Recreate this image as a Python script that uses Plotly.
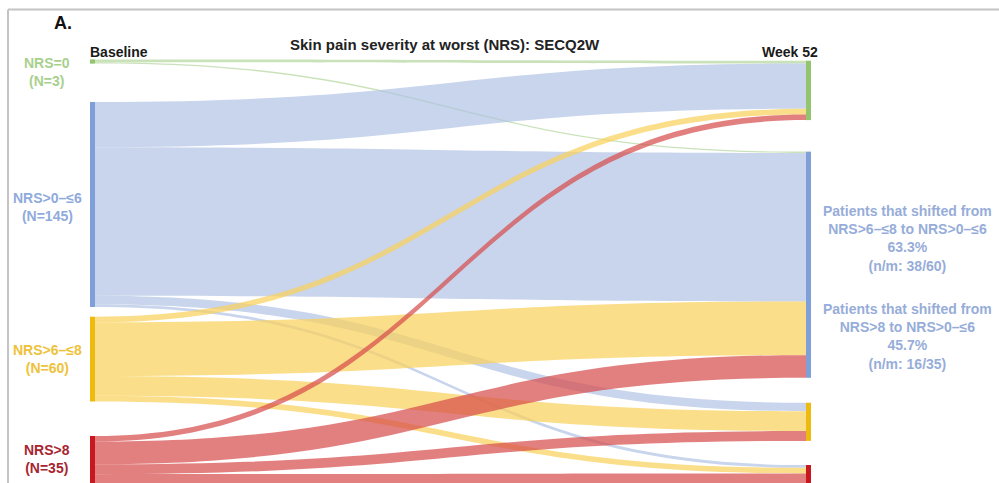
import plotly.graph_objects as go

# Pain categories (same at baseline and week 52)
categories = ["NRS=0", "NRS>0–≤6", "NRS>6–≤8", "NRS>8"]

# Patients moving from one baseline category (list) to each week-52 category
flows_from_nrs0 = [2, 1, 0, 0]
flows_from_nrs0_6 = [32, 105, 6, 2]
flows_from_nrs6_8 = [4, 38, 14, 4]
flows_from_nrs8 = [4, 16, 7, 8]
flow_rows = [flows_from_nrs0, flows_from_nrs0_6, flows_from_nrs6_8, flows_from_nrs8]

W, H = 999, 483
FONT = "Liberation Sans, Arial, sans-serif"

node_colors = ["#92C56E", "#7E9FD8", "#EDBA10", "#C8171E"]
link_colors = ["rgba(184,216,162,0.75)", "rgba(176,195,228,0.7)",
               "rgba(249,208,88,0.7)", "rgba(214,74,74,0.7)"]
label_colors = ["#A8D08D", "#8FAADC", "#EEC23A", "#A82530"]
callout_color = "#97ADD9"

# Column x centres and node y centres (pixels)
left_x, right_x = 92.5, 808.5
left_y = [61.5, 204.5, 359.1, 460.7]
right_y = [90.4, 264.7, 421.8, 474.9]

n = len(categories)
sources, targets, values, colors = [], [], [], []
for i, row in enumerate(flow_rows):
    for j, v in enumerate(row):
        if v > 0:
            sources.append(i)
            targets.append(n + j)
            values.append(v)
            colors.append(link_colors[i])

fig = go.Figure(go.Sankey(
    arrangement="fixed",
    domain=dict(x=[0, 1], y=[0, 1]),
    textfont=dict(color="rgba(0,0,0,0)", size=1),
    hoverinfo="none",
    node=dict(
        label=categories + categories,
        color=node_colors + node_colors,
        thickness=5,
        pad=46.5,
        line=dict(width=0),
        x=[left_x / W] * n + [right_x / W] * n,
        y=[v / H for v in left_y] + [v / H for v in right_y],
        hoverinfo="none",
    ),
    link=dict(source=sources, target=targets, value=values, color=colors,
              line=dict(width=0), hoverinfo="none"),
))


def px(x):
    return x / W


def py(y):
    return 1 - y / H


ann = []
ann.append(dict(text="<b>A.</b>", x=px(63), y=py(23), font=dict(size=18, color="#111")))
ann.append(dict(text="<b>Skin pain severity at worst (NRS): SECQ2W</b>", x=px(445), y=py(44),
                font=dict(size=15, color="#222")))
ann.append(dict(text="<b>Baseline</b>", x=px(119), y=py(52), font=dict(size=14, color="#1a1a1a")))
ann.append(dict(text="<b>Week 52</b>", x=px(790), y=py(52), font=dict(size=14, color="#1a1a1a")))

# Baseline category labels with patient counts
label_y = [72, 207, 359, 459]
for i, cat in enumerate(categories):
    total = sum(flow_rows[i])
    ann.append(dict(text=f"<b>{cat}<br>(N={total})</b>", x=px(47), y=py(label_y[i]),
                    font=dict(size=14, color=label_colors[i])))

# Shift call-outs into NRS>0–≤6 at week 52
callout_y = [238.5, 336]
for k, src in enumerate([2, 3]):
    moved = flow_rows[src][1]
    total = sum(flow_rows[src])
    txt = (f"<b>Patients that shifted from<br>{categories[src]} to {categories[1]}<br>"
           f"{100 * moved / total:.1f}%<br>(n/m: {moved}/{total})</b>")
    ann.append(dict(text=txt, x=px(907), y=py(callout_y[k]),
                    font=dict(size=14, color=callout_color)))

for a in ann:
    a.update(xref="paper", yref="paper", showarrow=False, xanchor="center", yanchor="middle")
    a["font"]["family"] = FONT

shapes = [
    dict(type="line", xref="paper", yref="paper", x0=px(8), x1=px(8), y0=py(9.5), y1=0,
         line=dict(color="#C4C4C4", width=2)),
    dict(type="line", xref="paper", yref="paper", x0=px(8), x1=1, y0=py(9.5), y1=py(9.5),
         line=dict(color="#C4C4C4", width=2)),
]

fig.update_layout(
    width=W, height=H,
    margin=dict(l=0, r=0, t=0, b=0),
    paper_bgcolor="white",
    plot_bgcolor="white",
    font=dict(family=FONT),
    annotations=ann,
    shapes=shapes,
)

fig.write_html("out.html", config={"displayModeBar": False})
